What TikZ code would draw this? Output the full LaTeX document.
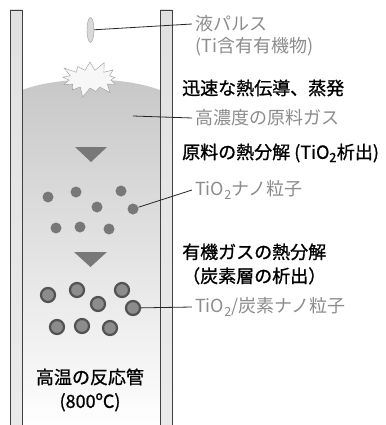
\documentclass[tikz,border=0pt]{standalone}
\usepackage{fontspec}
\setmainfont{Noto Sans CJK JP}
\newfontfamily\headfont[FakeBold=1]{Noto Sans CJK JP}
\usetikzlibrary{shapes.geometric,shapes.symbols}

\definecolor{notegray}{gray}{0.55}
\definecolor{markgray}{gray}{0.47}

\tikzset{
  wall/.style={draw=black!75, line width=0.8pt, shading=axis,
    top color=black!12, middle color=black!45, bottom color=black!8},
  dot/.style={circle, fill=markgray, minimum size=11pt, inner sep=0pt},
  cdot/.style={circle, draw=black!68, line width=2.2pt, fill=black!45,
    minimum size=14pt, inner sep=0pt},
  note/.style={anchor=west, text=notegray, inner sep=3pt},
  head/.style={anchor=west, text=black, inner sep=3pt, align=left,
    font=\fontsize{18}{24}\headfont},
  leader/.style={black!85, line width=0.8pt},
}

\begin{document}
\begin{tikzpicture}[x=1pt, y=-1pt, font=\fontsize{18}{24}\selectfont]
    \useasboundingbox (0,0) rectangle (385,425);
    \clip (0,0) rectangle (385,425);

    % Gas column inside the tube
    \shade[top color=black!22, middle color=black!7, bottom color=white]
        (22,90) .. controls (60,76) and (122,76) .. (160,90)
        -- (160,430) -- (22,430) -- cycle;

    % Tube walls
    \path[wall] (10,10) rectangle (22,430);
    \path[wall] (160,10) rectangle (172,430);

    % Liquid pulse and flash evaporation
    \node[ellipse, draw=black!40, fill=black!15, minimum width=7pt,
        minimum height=25pt, inner sep=0pt] (pulse) at (90.5,30) {};
    \node[starburst, draw=black!40, fill=black!3, minimum width=64pt,
        minimum height=40pt, starburst point height=11pt,
        starburst points=13, inner sep=0pt] (flash) at (90,79) {};

    % Falling direction
    \fill[markgray] (75,147) -- (107,147) -- (91,162) -- cycle;
    \fill[markgray] (74,252) -- (107,252) -- (90.5,267) -- cycle;

    % TiO2 nanoparticles
    \foreach \px/\py [count=\i] in {48/197, 76/192, 121/191, 97/207,
        133/209, 56/228, 80/227, 109/229} {
        \node[dot] (d\i) at (\px,\py) {};
    }

    % Carbon coated particles
    \foreach \px/\py [count=\i] in {48/295, 77/290, 122/290, 98/304,
        133/308, 57/327, 82/326, 110/328} {
        \node[cdot] (c\i) at (\px,\py) {};
    }

    % Labels
    \node[note] (pulsetxt) at (192,24) {液パルス};
    \node[note] (pulsesrc) at (192,47) {(Ti含有有機物)};
    \node[head] (evap) at (179,88) {迅速な熱伝導、蒸発};
    \node[note] (gastxt) at (192,118) {高濃度の原料ガス};
    \node[head] (decomp) at (179,153) {原料の熱分解 (TiO\textsubscript{2}析出)};
    \node[note] (nanotxt) at (192,190) {TiO\textsubscript{2}ナノ粒子};
    \node[head] (organic) at (179,264) {有機ガスの熱分解\\（炭素層の析出）};
    \node[note] (carbtxt) at (192,307) {TiO\textsubscript{2}/炭素ナノ粒子};
    \node[align=center, font=\fontsize{18}{24}\headfont] (tube) at (90,390)
        {高温の反応管\\(800ºC)};

    % Leader lines
    \coordinate (gaspt) at (133,116);
    \draw[leader] (pulse) -- (pulsetxt.west);
    \draw[leader] (gaspt) -- (gastxt.west);
    \draw[leader] (d5) -- (nanotxt.west);
    \draw[leader] (c5) -- (carbtxt.west);

\end{tikzpicture}
\end{document}
